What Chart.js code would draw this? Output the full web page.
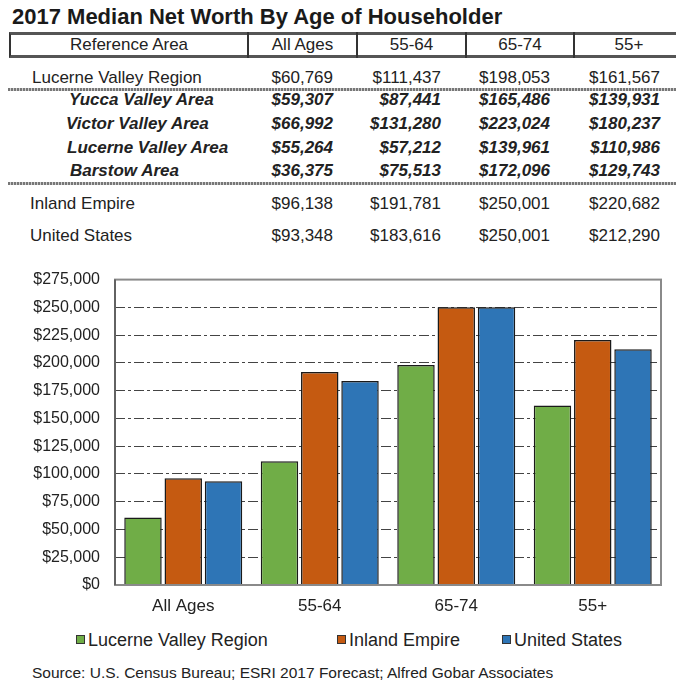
<!DOCTYPE html>
<html>
<head>
<meta charset="utf-8">
<script src="https://cdn.jsdelivr.net/npm/chart.js@4"></script>
<style>
  html, body { margin:0; padding:0; background:#fff; }
  body { width:676px; height:692px; position:relative; overflow:hidden;
         font-family:'Liberation Sans', Arial, sans-serif; color:#222; }
  .abs { position:absolute; white-space:nowrap; }
  #title { left:12px; top:5px; font-weight:bold; font-size:22px; line-height:24px; color:#1a1a1a; }
  #hdrbox { left:9px; top:32px; width:672px; height:20px; border-top:3px solid #555; border-bottom:3px solid #555; border-left:2px solid #333; }
  .vline { position:absolute; top:32px; height:26px; width:2px; background:#333; }
  .hcell { position:absolute; top:35px; height:20px; line-height:20px; font-size:17px; text-align:center; }
  .row { position:absolute; height:20px; line-height:20px; font-size:17px; }
  .sub { font-style:italic; font-weight:bold; }
  .val { position:absolute; text-align:right; height:20px; line-height:20px; font-size:17px; }
  .sep { position:absolute; left:8px; width:668px; height:3px;
         background:repeating-linear-gradient(90deg,#777 0 2px,#ccc 2px 3px); }
  #chartwrap { position:absolute; left:0; top:255px; width:676px; height:370px; }
  .leg { position:absolute; top:630px; height:20px; line-height:20px; font-size:18px; }
  .leg i { display:inline-block; width:7px; height:7px; border:1px solid #333; margin-right:3px; vertical-align:2px; }
  #source { left:32px; top:664px; font-size:15.5px; line-height:17px; color:#222; }
</style>
</head>
<body>
<div id="title" class="abs">2017 Median Net Worth By Age of Householder</div>
<div id="hdrbox" class="abs"></div>
<div id="table"></div>
<div id="chartwrap"><canvas id="c"></canvas></div>
<div id="legend"></div>
<div id="source" class="abs">Source: U.S. Census Bureau; ESRI 2017 Forecast; Alfred Gobar Associates</div>
<script>
// ---- data ----
const headers = ['Reference Area', 'All Ages', '55-64', '65-74', '55+'];
const categories = ['All Ages', '55-64', '65-74', '55+'];
const seriesNames = ['Lucerne Valley Region', 'Inland Empire', 'United States'];
const lucerneValleyRegion = [60769, 111437, 198053, 161567];
const yuccaValleyArea = [59307, 87441, 165486, 139931];
const victorValleyArea = [66992, 131280, 223024, 180237];
const lucerneValleyArea = [55264, 57212, 139961, 110986];
const barstowArea = [36375, 75513, 172096, 129743];
const inlandEmpire = [96138, 191781, 250001, 220682];
const unitedStates = [93348, 183616, 250001, 212290];
const yTickValues = [0, 25000, 50000, 75000, 100000, 125000, 150000, 175000, 200000, 225000, 250000, 275000];

const fmt = v => '$' + v.toLocaleString('en-US');

// ---- table ----
const table = document.getElementById('table');
const colBounds = [[10,248],[248,357],[357,466],[466,574],[574,684]];
[248,357,466,574].forEach(x => {
  const d = document.createElement('div'); d.className = 'vline'; d.style.left = (x-1)+'px'; table.appendChild(d);
});
headers.forEach((h,i) => {
  const d = document.createElement('div'); d.className = 'hcell';
  d.style.left = colBounds[i][0]+'px'; d.style.width = (colBounds[i][1]-colBounds[i][0])+'px';
  d.textContent = h; table.appendChild(d);
});
const valRight = [333, 441, 550, 660];
const rows = [
  {label:'Lucerne Valley Region', vals:lucerneValleyRegion, y:78, x:32, sub:false},
  {label:'Yucca Valley Area', vals:yuccaValleyArea, y:100, x:69, sub:true},
  {label:'Victor Valley Area', vals:victorValleyArea, y:124, x:66, sub:true},
  {label:'Lucerne Valley Area', vals:lucerneValleyArea, y:148, x:67, sub:true},
  {label:'Barstow Area', vals:barstowArea, y:171, x:70, sub:true},
  {label:'Inland Empire', vals:inlandEmpire, y:204, x:30, sub:false},
  {label:'United States', vals:unitedStates, y:236, x:30, sub:false}
];
rows.forEach(r => {
  const l = document.createElement('div'); l.className = 'row' + (r.sub ? ' sub' : '');
  l.style.left = r.x+'px'; l.style.top = (r.y-10)+'px'; l.textContent = r.label; table.appendChild(l);
  r.vals.forEach((v,i) => {
    const d = document.createElement('div'); d.className = 'val' + (r.sub ? ' sub' : '');
    d.style.left = (valRight[i]-100)+'px'; d.style.width = '100px'; d.style.top = (r.y-10)+'px';
    d.textContent = fmt(v); table.appendChild(d);
  });
});
[88, 182].forEach(y => {
  const s = document.createElement('div'); s.className = 'sep'; s.style.top = y+'px'; table.appendChild(s);
});

// ---- chart ----
const colors = ['#70AD47', '#C55A11', '#2E75B6'];
const seriesData = [lucerneValleyRegion, inlandEmpire, unitedStates];

const frame = {
  id: 'frame',
  afterDatasetsDraw(chart) {
    const {ctx, chartArea:a} = chart;
    ctx.save();
    ctx.strokeStyle = '#8a8a8a'; ctx.lineWidth = 2;
    ctx.strokeRect(a.left, a.top, a.right - a.left, a.bottom - a.top);
    ctx.strokeStyle = '#555'; ctx.lineWidth = 1.5;
    ctx.beginPath(); ctx.moveTo(a.left, a.top); ctx.lineTo(a.left, a.bottom); ctx.stroke();
    ctx.restore();
  }
};

Chart.defaults.font.family = "'Liberation Sans', Arial, sans-serif";
Chart.defaults.color = '#222';

new Chart(document.getElementById('c'), {
  type: 'bar',
  data: {
    labels: categories,
    datasets: seriesNames.map((n,i) => ({
      label: n, data: seriesData[i], backgroundColor: colors[i],
      borderColor: '#1a1a1a', borderWidth: 1.5,
      barPercentage: 0.93, categoryPercentage: 0.885
    }))
  },
  options: {
    responsive: true, maintainAspectRatio: false, animation: false,
    layout: { padding: { top: 13, right: 15, left: 0, bottom: 0 } },
    plugins: { legend: { display: false }, tooltip: { enabled: false } },
    scales: {
      x: {
        grid: { display: false, drawTicks: false },
        border: { display: false },
        ticks: { font: { size: 17 }, padding: 11, color: '#222' },
        afterFit(s) { s.height = 40; }
      },
      y: {
        min: 0, max: 275000,
        afterBuildTicks(s) { s.ticks = yTickValues.map(v => ({value: v})); },
        grid: { color: '#444', lineWidth: 1, drawTicks: false },
        border: { display: false, dash: [10,3,3,3] },
        ticks: { font: { size: 16 }, padding: 15, color: '#222', callback: v => fmt(v) },
        afterFit(s) { s.width = 115; }
      }
    }
  },
  plugins: [frame]
});

// ---- legend ----
const legend = document.getElementById('legend');
const legX = [76, 337, 502];
seriesNames.forEach((n,i) => {
  const d = document.createElement('div'); d.className = 'leg';
  d.style.left = legX[i]+'px';
  const b = document.createElement('i'); b.style.background = colors[i];
  d.appendChild(b); d.appendChild(document.createTextNode(n));
  legend.appendChild(d);
});
</script>
</body>
</html>
